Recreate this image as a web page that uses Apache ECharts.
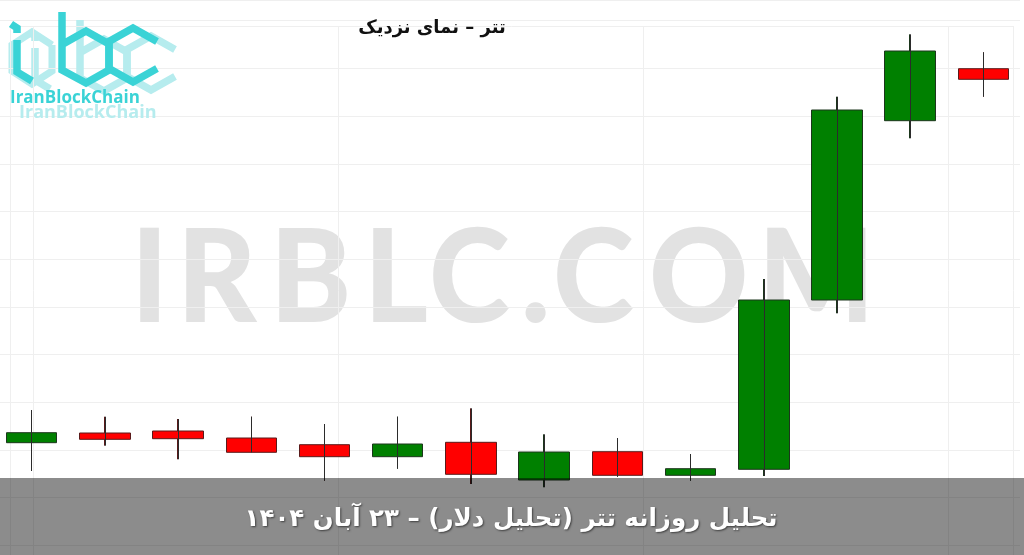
<!DOCTYPE html>
<html><head><meta charset="utf-8">
<script src="https://cdn.jsdelivr.net/npm/echarts@6/dist/echarts.min.js"></script>
<style>html,body{margin:0;padding:0;background:#fff;overflow:hidden}#c{width:1024px;height:555px}</style>
</head><body><div id="c"></div>
<script>
// ---- data (price units are relative, no axis shown) ----
const categories = ['۱۰ آبان','۱۱ آبان','۱۲ آبان','۱۳ آبان','۱۴ آبان','۱۵ آبان','۱۶ آبان','۱۷ آبان','۱۸ آبان','۱۹ آبان','۲۰ آبان','۲۱ آبان','۲۲ آبان','۲۳ آبان'];
const openValues  = [102.7, 112.4, 114.4, 107.4, 100.7,  88.7, 103.1,  65.4,  93.7,  70.1,  76.1, 245.4, 424.7, 476.7];
const closeValues = [112.7, 106.1, 106.7,  93.1,  88.7, 101.4,  71.1,  93.4,  70.1,  76.7, 245.4, 435.4, 494.4, 466.1];
const lowValues   = [ 74.4,  99.7,  86.1,  93.1,  64.7,  76.7,  61.4,  58.1,  68.7,  64.7,  69.4, 232.1, 407.1, 448.7];
const highValues  = [135.4, 128.7, 126.4, 128.7, 121.4, 128.7, 137.1, 111.1, 107.4,  91.4, 266.4, 448.7, 511.1, 493.1];
const gridStep = 47.7;
const priceMin = 0;
const priceMax = 545.4;
const dayMin = -0.432;
const dayMax = 13.5;
const verticalGridX = [10, 33, 338, 643, 948, 1013];
const titleText = 'تتر – نمای نزدیک';
const bannerText = 'تحلیل روزانه تتر (تحلیل دلار) – ۲۳ آبان ۱۴۰۴';
const watermarkLetters = ['I','R','B','L','C','.','C','O','M'];
const watermarkX = [131, 177, 270, 364, 429, 521, 553, 649, 758];
const logoText = 'IranBlockChain';

const candleData = categories.map((c, i) => [i, openValues[i], closeValues[i], lowValues[i], highValues[i]]);
const wickData = categories.map((c, i) => ({coords: [[i, lowValues[i]], [i, highValues[i]]]}));

const chart = echarts.init(document.getElementById('c'), null, {renderer: 'canvas'});

const cyan = '#3ad3d6';
const cyanLight = '#b6ecee';
function hexPts(cx, cy, rx, ry) {
  return [[cx + rx, cy - ry / 2], [cx, cy - ry], [cx - rx, cy - ry / 2], [cx - rx, cy + ry / 2], [cx, cy + ry], [cx + rx, cy + ry / 2]];
}
function logoShapes(dx, dy, color, z) {
  const lw = 7.5;
  const b = hexPts(86 + dx, 57 + dy, 23, 26);
  const c = hexPts(133 + dx, 55 + dy, 24, 27);
  const st = {stroke: color, lineWidth: lw, fill: null, lineJoin: 'miter'};
  return [
    {type: 'polyline', z: z, shape: {points: [[11 + dx, 24 + dy], [17 + dx, 28 + dy], [17 + dx, 33 + dy]]}, style: st},
    {type: 'polyline', z: z, shape: {points: [[17 + dx, 40 + dy], [17 + dx, 72 + dy], [32 + dx, 81 + dy]]}, style: st},
    {type: 'polyline', z: z, shape: {points: [[62 + dx, 12 + dy], [62 + dx, 70 + dy], b[4], b[5], b[0], b[1], b[2]]}, style: st},
    {type: 'polyline', z: z, shape: {points: [c[0], c[1], c[2], c[3], c[4], c[5]]}, style: st}
  ];
}

const graphics = [];
watermarkLetters.forEach((ch, i) => {
  graphics.push({type: 'text', z: -1, x: watermarkX[i], y: 280, scaleX: 0.95, silent: true,
    style: {text: ch, fill: '#e2e2e2', fontSize: 129, fontWeight: 900, fontFamily: 'Lato, Inter, sans-serif', align: 'left', verticalAlign: 'middle'}});
});
graphics.push({type: 'polyline', z: 0, shape: {points: hexPts(32, 58, 20, 26).concat([hexPts(32, 58, 20, 26)[0]])}, style: {stroke: cyanLight, lineWidth: 7, fill: null}});
logoShapes(18, 8, cyanLight, 1).forEach(g => graphics.push(g));
logoShapes(0, 0, cyan, 2).forEach(g => graphics.push(g));
graphics.push({type: 'text', z: 2, x: 19, y: 113, style: {text: logoText, fill: cyanLight, fontSize: 18, fontWeight: 'bold', fontFamily: '"Open Sans", sans-serif', align: 'left', verticalAlign: 'middle'}});
graphics.push({type: 'text', z: 3, x: 10, y: 98, style: {text: logoText, fill: cyan, fontSize: 17, fontWeight: 'bold', fontFamily: '"Open Sans", sans-serif', align: 'left', verticalAlign: 'middle'}});
graphics.push({type: 'text', z: 5, x: 432, y: 28, style: {text: titleText, fill: '#111', fontSize: 18, fontWeight: 'bold', fontFamily: '"DejaVu Sans", sans-serif', align: 'center', verticalAlign: 'middle'}});
graphics.push({type: 'rect', z: 100, shape: {x: 0, y: 478, width: 1024, height: 77}, style: {fill: 'rgba(0,0,0,0.45)'}});
graphics.push({type: 'text', z: 101, x: 511, y: 520, style: {text: bannerText, fill: '#ffffff', fontSize: 24.5, fontWeight: 'bold', fontFamily: '"DejaVu Sans", sans-serif', align: 'center', verticalAlign: 'middle', textShadowColor: 'rgba(0,0,0,0.55)', textShadowBlur: 2, textShadowOffsetX: 1, textShadowOffsetY: 1}});

const option = {
  animation: false,
  backgroundColor: '#ffffff',
  grid: [
    {left: 0, right: 4, top: 0, bottom: 9.6},
    {left: 0, right: 0, top: 0, bottom: 0}
  ],
  xAxis: [
    {type: 'value', gridIndex: 0, min: dayMin, max: dayMax, show: false, splitLine: {show: false}},
    {type: 'value', gridIndex: 1, min: 0, max: 1024, show: false}
  ],
  yAxis: [
    {type: 'value', gridIndex: 0, min: priceMin, max: priceMax, interval: gridStep,
      axisLine: {show: false}, axisTick: {show: false}, axisLabel: {show: false},
      splitLine: {show: true, lineStyle: {color: '#efefef', width: 1}}},
    {type: 'value', gridIndex: 1, min: 0, max: 555, inverse: true, show: false}
  ],
  series: [
    {type: 'lines', coordinateSystem: 'cartesian2d', xAxisIndex: 1, yAxisIndex: 1, silent: true, z: 1,
      data: verticalGridX.map(x => ({coords: [[x, 26], [x, 555]]})).concat([{coords: [[10, 26], [1013, 26]]}]),
      lineStyle: {color: '#efefef', width: 1, opacity: 1}},
    {type: 'candlestick', xAxisIndex: 0, yAxisIndex: 0, data: candleData, encode: {x: 0, y: [1, 2, 3, 4]}, barWidth: 51, z: 3,
      itemStyle: {color: '#008000', color0: '#ff0000', borderColor: '#1c361c', borderColor0: '#5a1a1a', borderWidth: 1}},
    {type: 'lines', coordinateSystem: 'cartesian2d', xAxisIndex: 0, yAxisIndex: 0, data: wickData, z: 4, silent: true,
      lineStyle: {color: '#2b2b2b', width: 1, opacity: 1}}
  ],
  graphic: graphics
};
chart.setOption(option);
</script></body></html>
